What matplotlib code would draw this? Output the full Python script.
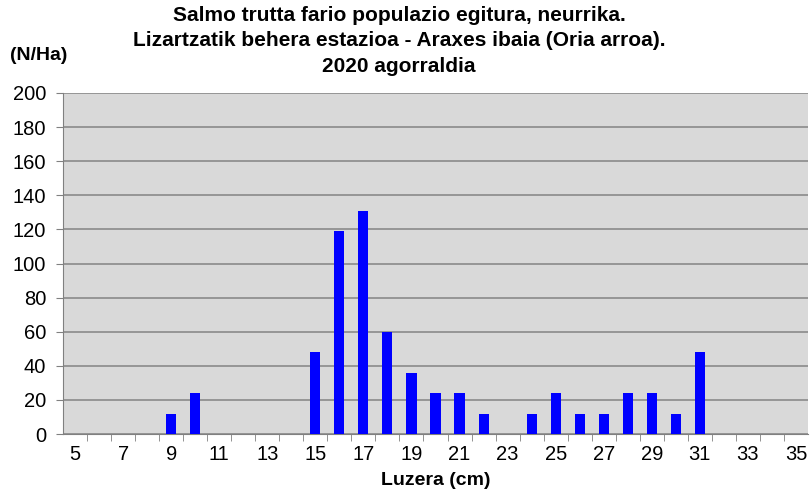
import matplotlib.pyplot as plt
import numpy as np

plt.rcParams['font.family'] = ['Liberation Sans', 'DejaVu Sans']

# length classes (cm) and density (N/Ha)
lengths = list(range(5, 36))
density = [0, 0, 0, 0, 12, 24, 0, 0, 0, 0, 48, 119, 131, 60, 36, 24,
           24, 12, 0, 12, 24, 12, 12, 24, 24, 12, 48, 0, 0, 0, 0]
tick_labels = [str(v) for v in range(5, 36, 2)]

fig = plt.figure(figsize=(8.11, 4.96), dpi=100)
ax = fig.add_axes([63 / 811, 62 / 496, 745 / 811, 341 / 496])
ax.set_facecolor('#d9d9d9')

ax.bar(lengths, density, width=0.42, color='#0000ff', zorder=3)

ax.set_xlim(4.5, 35.5)
ax.set_ylim(0, 200)
ax.set_yticks(np.arange(0, 201, 20))
ax.yaxis.grid(True, color='#8a8a8a', linewidth=1.2, zorder=0)

# category labels every 2 cm, tick marks between categories
ax.set_xticks(range(5, 36, 2))
ax.set_xticklabels(tick_labels)
ax.set_xticks(np.arange(5.5, 35, 1), minor=True)
ax.tick_params(axis='x', which='major', length=0, labelsize=14.5, pad=8)
ax.tick_params(axis='x', which='minor', length=5, color='#808080', direction='out')
ax.tick_params(axis='y', length=5, color='#808080', labelsize=14.5, pad=7)

for side in ['top', 'right']:
    ax.spines[side].set_visible(False)
ax.spines['left'].set_color('#808080')
ax.spines['bottom'].set_color('#808080')

fig.text(0.492, 0.988, 'Salmo trutta fario populazio egitura, neurrika.\n'
         'Lizartzatik behera estazioa - Araxes ibaia (Oria arroa).\n'
         '2020 agorraldia', ha='center', va='top', fontsize=15,
         fontweight='bold', linespacing=1.42)
fig.text(0.012, 0.888, '(N/Ha)', ha='left', va='center', fontsize=14, fontweight='bold')
ax.set_xlabel('Luzera (cm)', fontsize=14, fontweight='bold', labelpad=6)

fig.savefig('out.png', dpi=100)
